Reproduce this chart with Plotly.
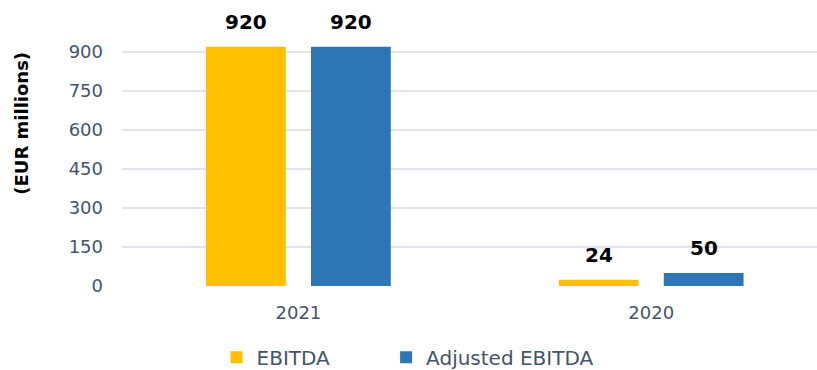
import plotly.graph_objects as go

# Data
years = ["2021", "2020"]
ebitda = [920, 24]
adjusted_ebitda = [920, 50]
y_ticks = [0, 150, 300, 450, 600, 750, 900]

series = [
    ("EBITDA", ebitda, "#FFC000", "legend", 0.136),
    ("Adjusted EBITDA", adjusted_ebitda, "#2E75B6", "legend2", 0.380),
]

FONT = "DejaVu Sans"
SLATE = "#44546A"
BARGAP = 0.405
BARGROUPGAP = 0.24

fig = go.Figure()
for name, vals, color, leg, _ in series:
    fig.add_trace(go.Bar(
        name=name, x=years, y=vals, legend=leg,
        marker=dict(color=color, line=dict(width=0)),
    ))

# Value labels above each bar
slot = (1 - BARGAP) / len(series)
annotations = []
for i, (name, vals, color, _, _) in enumerate(series):
    offset = (i - (len(series) - 1) / 2) * slot
    for j, v in enumerate(vals):
        annotations.append(dict(
            x=j + offset, y=v, xref="x", yref="y", text=str(v), showarrow=False,
            yanchor="bottom", yshift=11,
            font=dict(family=FONT, size=20, color="#000000", weight="bold"),
        ))

annotations.append(dict(
    text="<b>(EUR millions)</b>", textangle=-90, showarrow=False,
    xref="paper", yref="paper", x=-0.145, y=0.625, xanchor="center", yanchor="middle",
    font=dict(family=FONT, size=18, color="#000000"),
))

legend_style = dict(
    orientation="h", y=-0.274, xanchor="left", yanchor="middle",
    font=dict(family=FONT, size=20, color=SLATE), itemwidth=30,
)

fig.update_layout(
    width=817, height=370,
    margin=dict(l=122, r=0, t=26, b=84, autoexpand=False),
    paper_bgcolor="white", plot_bgcolor="white",
    barmode="group", bargap=BARGAP, bargroupgap=BARGROUPGAP,
    font=dict(family=FONT, color=SLATE),
    showlegend=True,
    legend=dict(x=series[0][4], **legend_style),
    legend2=dict(x=series[1][4], **legend_style),
    xaxis=dict(
        type="category", range=[-0.5, 1.47], showgrid=False, zeroline=False,
        showline=False, ticks="", automargin=False,
        tickfont=dict(family=FONT, size=18, color=SLATE), ticklabelstandoff=14,
    ),
    yaxis=dict(
        range=[0, 1000], tickvals=y_ticks, showgrid=True, gridcolor="#E1E5EB",
        gridwidth=1.5, zeroline=False, showline=False, ticks="", automargin=False,
        tickfont=dict(family=FONT, size=18, color=SLATE), ticklabelstandoff=18,
    ),
    annotations=annotations,
)

fig.write_html("out.html")
